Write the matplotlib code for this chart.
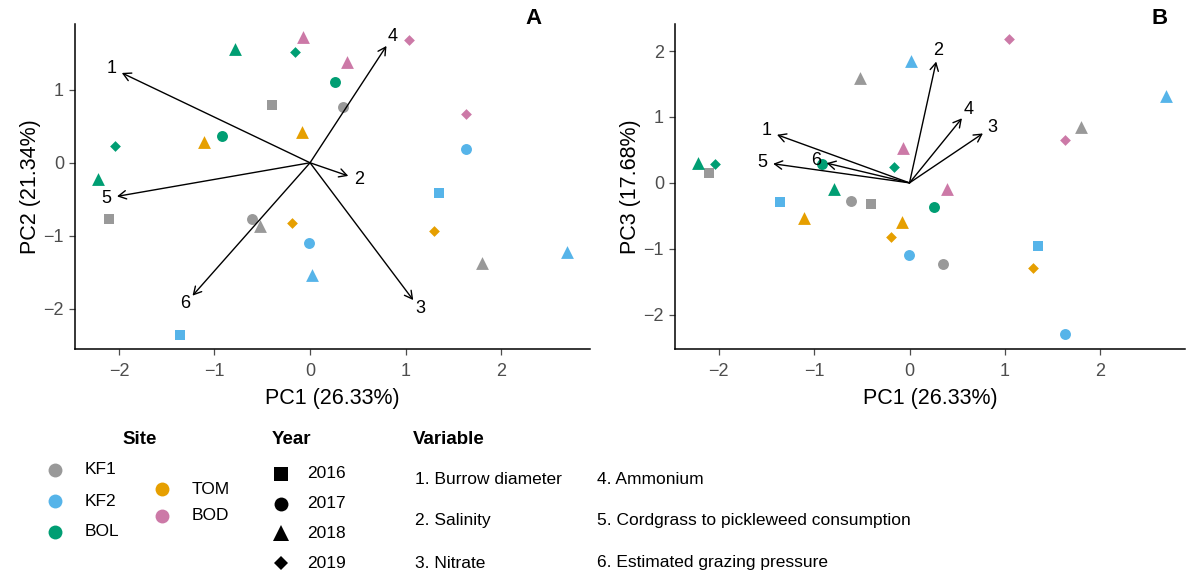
import matplotlib
matplotlib.use('Agg')
import matplotlib.pyplot as plt
import numpy as np

plt.rcParams['font.family'] = ['Liberation Sans', 'DejaVu Sans']

# sample scores (site, year, PC1, PC2, PC3)
site = ['BOL', 'BOL', 'BOD', 'BOD', 'BOL', 'KF1', 'TOM', 'BOD', 'BOD',
        'KF2', 'KF2', 'KF1', 'TOM', 'BOL', 'BOL', 'BOL', 'KF1', 'KF1',
        'KF1', 'TOM', 'KF2', 'KF2', 'TOM', 'KF1', 'KF2', 'KF2']
year = [2018, 2019, 2018, 2018, 2017, 2017, 2018, 2019, 2019,
        2017, 2016, 2016, 2018, 2017, 2019, 2018, 2016, 2017,
        2018, 2019, 2017, 2018, 2019, 2018, 2016, 2018]
pc1 = [-0.79, -0.16, -0.07, 0.39, 0.26, 0.35, -0.08, 1.04, 1.63,
       1.63, 1.35, -0.40, -1.11, -0.92, -2.04, -2.22, -2.10, -0.61,
       -0.52, -0.19, -0.01, 0.02, 1.30, 1.80, -1.36, 2.69]
pc2 = [1.56, 1.52, 1.72, 1.38, 1.10, 0.77, 0.42, 1.68, 0.67,
       0.19, -0.42, 0.79, 0.29, 0.36, 0.23, -0.22, -0.77, -0.77,
       -0.87, -0.82, -1.10, -1.53, -0.94, -1.37, -2.36, -1.22]
pc3 = [-0.09, 0.24, 0.53, -0.09, -0.36, -1.23, -0.59, 2.19, 0.65,
       -2.29, -0.96, -0.32, -0.53, 0.29, 0.29, 0.30, 0.15, -0.27,
       1.59, -0.82, -1.10, 1.85, -1.29, 0.84, -0.29, 1.32]

# variable loadings (arrow tips)
var_id = ['1', '2', '3', '4', '5', '6']
var_names = ['Burrow diameter', 'Salinity', 'Nitrate', 'Ammonium',
             'Cordgrass to pickleweed consumption', 'Estimated grazing pressure']
load_a_x = [-1.97, 0.40, 1.08, 0.80, -2.02, -1.23]
load_a_y = [1.23, -0.18, -1.88, 1.60, -0.46, -1.82]
load_b_x = [-1.39, 0.28, 0.77, 0.55, -1.43, -0.87]
load_b_y = [0.73, 1.84, 0.75, 0.98, 0.29, 0.30]

site_order = ['KF1', 'KF2', 'BOL', 'TOM', 'BOD']
site_colors = {'KF1': '#999999', 'KF2': '#56B4E9', 'BOL': '#009E73',
               'TOM': '#E69F00', 'BOD': '#CC79A7'}
year_order = [2016, 2017, 2018, 2019]
year_markers = {2016: 's', 2017: 'o', 2018: '^', 2019: 'D'}
marker_size = {2016: 60, 2017: 62, 2018: 85, 2019: 30}

W, H = 1186, 577


def fig_box(l, t, r, b):
    return [l / W, 1 - b / H, (r - l) / W, (b - t) / H]


def style_axes(ax):
    for s in ['top', 'right']:
        ax.spines[s].set_visible(False)
    for s in ['left', 'bottom']:
        ax.spines[s].set_linewidth(1.1)
    ax.tick_params(colors='#4D4D4D', labelsize=13, length=4, width=0.9)
    ax.tick_params(axis='x', pad=6)
    ax.tick_params(axis='y', pad=4)


def plot_scores(ax, xs, ys):
    for yr in year_order:
        for st in site_order:
            idx = [i for i in range(len(site))
                   if site[i] == st and year[i] == yr]
            if not idx:
                continue
            ax.scatter(
                [xs[i] for i in idx],
                [ys[i] for i in idx],
                marker=year_markers[yr],
                s=marker_size[yr],
                color=site_colors[st],
                linewidths=0,
                zorder=3
            )


def plot_loadings(ax, lx, ly):
    origin = ax.transData.transform((0, 0))
    for k, x, y in zip(var_id, lx, ly):
        ax.annotate(
            '', xy=(x, y), xytext=(0, 0),
            arrowprops=dict(arrowstyle='->,head_length=0.55,head_width=0.3',
                            color='k', lw=1.0, shrinkA=0, shrinkB=0),
            zorder=4
        )
        tip = ax.transData.transform((x, y))
        d = tip - origin
        d = d / np.hypot(*d)
        ax.annotate(
            k, xy=(x, y), xytext=(d[0] * 11, d[1] * 11),
            textcoords='offset pixels', ha='center', va='center',
            fontsize=13, zorder=5
        )


fig = plt.figure(figsize=(W / 100, H / 100), dpi=100)

ax_a = fig.add_axes(fig_box(75, 24, 590, 349))
ax_a.set(xlim=(-2.46, 2.93), ylim=(-2.55, 1.90),
         xticks=[-2, -1, 0, 1, 2], yticks=[-2, -1, 0, 1])
ax_b = fig.add_axes(fig_box(675, 24, 1185, 349))
ax_b.set(xlim=(-2.46, 2.89), ylim=(-2.52, 2.41),
         xticks=[-2, -1, 0, 1, 2], yticks=[-2, -1, 0, 1, 2])

for ax in [ax_a, ax_b]:
    style_axes(ax)
    ax.set_xlabel('PC1 (26.33%)', fontsize=15.5, labelpad=6)

ax_a.set_ylabel('PC2 (21.34%)', fontsize=15.5, labelpad=2)
ax_b.set_ylabel('PC3 (17.68%)', fontsize=15.5, labelpad=2)

plot_scores(ax_a, pc1, pc2)
plot_scores(ax_b, pc1, pc3)
plot_loadings(ax_a, load_a_x, load_a_y)
plot_loadings(ax_b, load_b_x, load_b_y)

fig.text(533 / W, 1 - 18 / H, 'A', fontsize=16, fontweight='bold',
         ha='center', va='center')
fig.text(1160 / W, 1 - 18 / H, 'B', fontsize=16, fontweight='bold',
         ha='center', va='center')

# legend, drawn by hand in pixel coords
def fx(px):
    return px / W


def fy(py):
    return 1 - py / H


fig.text(fx(140), fy(440), 'Site', fontsize=13.5, fontweight='bold',
         ha='center', va='center')
site_pos = {'KF1': (55, 470), 'KF2': (55, 501), 'BOL': (55, 532),
            'TOM': (162, 489), 'BOD': (162, 516)}
for st in site_order:
    px, py = site_pos[st]
    fig.lines.append(plt.Line2D([fx(px)], [fy(py)], marker='o', ms=10,
                                color=site_colors[st], mew=0,
                                transform=fig.transFigure))
    fig.text(fx(px + 30), fy(py), st, fontsize=12.5, va='center')

fig.text(fx(272), fy(440), 'Year', fontsize=13.5, fontweight='bold',
         va='center')
for i, yr in enumerate(year_order):
    py = 474 + i * 29.7
    ms = {2016: 10, 2017: 10, 2018: 12, 2019: 7.5}[yr]
    fig.lines.append(plt.Line2D([fx(281)], [fy(py)],
                                marker=year_markers[yr], ms=ms, color='k',
                                mew=0, transform=fig.transFigure))
    fig.text(fx(307), fy(py), str(yr), fontsize=12.5, va='center')

fig.text(fx(413), fy(440), 'Variable', fontsize=13.5, fontweight='bold',
         va='center')
for i, (k, name) in enumerate(zip(var_id, var_names)):
    col, row = divmod(i, 3)
    fig.text(fx(415 + col * 182), fy(479 + row * 42), f'{k}. {name}',
             fontsize=12.5, va='center')

fig.savefig('out.png', dpi=100)
